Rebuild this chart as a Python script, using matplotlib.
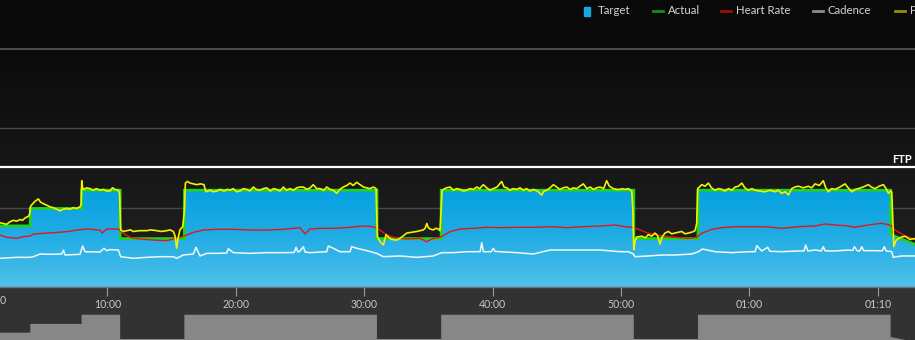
import numpy as np
import matplotlib.pyplot as plt
from matplotlib.patches import Polygon, Rectangle
from matplotlib.lines import Line2D
from matplotlib.colors import LinearSegmentedColormap
import matplotlib.transforms as mtransforms

plt.rcParams['font.family'] = ['Lato', 'DejaVu Sans']

# workout target steps: minutes and watts
seg_start = [0, 4, 8, 11, 16, 31, 36, 51, 56, 71]
seg_end = [4, 8, 11, 16, 31, 36, 51, 56, 71, 73]
seg_from = [77, 99, 122, 61, 122, 61, 122, 61, 122, 66]
seg_to = [77, 99, 122, 61, 122, 61, 122, 61, 122, 53]
ftp = 151

# power trace (yellow)
power_min = [1.64, 1.9, 2.16, 2.4, 2.68, 2.95, 3.2, 3.4, 3.59, 3.85, 3.95, 4.03, 4.2, 4.37, 4.63, 4.8, 5.02, 5.3,
             5.54, 5.8, 6.06, 6.32, 6.55, 6.84, 7.1, 7.35, 7.6, 7.87, 7.96, 8.01, 8.07, 8.13, 8.4, 8.65, 8.9, 9.15,
             9.43, 9.7, 9.95, 10.21, 10.4, 10.6, 10.86, 10.95,
             11.04, 11.25, 11.51, 11.8, 12.03, 12.5, 13.07, 13.4, 13.85, 14.2, 14.63, 14.9, 15.14, 15.28, 15.4,
             15.52, 15.66, 15.87, 16.0,
             16.08, 16.25, 16.44, 16.7, 16.96, 17.25, 17.53, 17.6, 17.69, 18.0, 18.25, 18.52, 18.8, 19.1, 19.35,
             19.56, 19.81, 20.05, 20.33, 20.6, 20.86, 21.1, 21.37, 21.6, 21.89, 22.15, 22.41, 22.7, 22.95, 23.19,
             23.45, 23.71, 23.95, 24.23, 24.5, 24.75, 25.01, 25.27, 25.55, 25.8, 26.04, 26.3, 26.57, 26.85, 27.09,
             27.35, 27.6, 27.87, 28.1, 28.38, 28.65, 28.9, 29.15, 29.42, 29.68, 29.95, 30.2, 30.45, 30.72, 30.93,
             31.03, 31.25, 31.5, 31.71, 31.95, 32.15, 32.54, 32.75, 32.93, 33.32, 33.7, 34.1, 34.35, 34.61, 34.75,
             34.88, 35.0, 35.14, 35.39, 35.6, 35.78, 35.91,
             36.07, 36.4, 36.69, 36.95, 37.2, 37.47, 37.75, 37.99, 38.25, 38.51, 38.77, 39.0, 39.28, 39.55, 39.8,
             40.06, 40.35, 40.71, 40.9, 41.1, 41.35, 41.6, 41.88, 42.14, 42.4, 42.65, 42.9, 43.18, 43.5, 43.83,
             44.0, 44.22, 44.48, 44.74, 45.0, 45.25, 45.5, 45.78, 46.05, 46.3, 46.56, 46.8, 47.07, 47.35, 47.6,
             47.85, 48.1, 48.37, 48.65, 48.89, 49.1, 49.41, 49.67, 49.93, 50.1, 50.32, 50.58, 50.84, 50.92,
             51.0, 51.1, 51.23, 51.62, 51.9, 52.13, 52.4, 52.65, 52.85, 53.04, 53.2, 53.43, 53.69, 53.95, 54.21,
             54.47, 54.73, 55.0, 55.25, 55.5, 55.77, 55.9,
             55.98, 56.29, 56.55, 56.81, 57.05, 57.33, 57.6, 57.85, 58.1, 58.37, 58.63, 58.89, 59.15, 59.41, 59.65,
             59.92, 60.2, 60.44, 60.8, 61.22, 61.6, 62.0, 62.25, 62.52, 62.8, 63.04, 63.3, 63.55, 63.82, 64.2,
             64.6, 64.85, 65.12, 65.45, 65.76, 65.95, 66.15, 66.4, 66.68, 67.05, 67.45, 67.7, 67.97, 68.25, 68.49,
             68.85, 69.27, 69.5, 69.79, 70.1, 70.44, 70.65, 70.83, 71.0, 71.09, 71.18,
             71.25, 71.4, 71.6, 71.85, 72.13, 72.5, 72.9]
power_w = [81, 80, 79, 82, 84, 83, 85, 84, 87, 89, 92, 102, 105, 108, 111, 107, 105, 103,
           101, 100, 98, 96, 98, 99, 98, 100, 99, 101, 104, 134, 126, 123, 125, 124, 122, 124,
           122, 123, 121, 121, 125, 123, 122, 118,
           72, 70, 71, 72, 70, 71, 71, 72, 71, 70, 71, 72, 70, 64, 49,
           62, 72, 76, 95,
           131, 133, 131, 130, 129, 130, 129, 124, 120, 122, 120, 121, 123, 121, 123,
           122, 124, 120, 121, 124, 123, 121, 126, 123, 122, 124, 125, 121, 124, 123,
           121, 126, 122, 124, 122, 125, 126, 126, 123, 125, 129, 124, 124, 122, 126,
           123, 122, 118, 123, 126, 128, 131, 128, 132, 129, 126, 125, 124, 126, 124,
           63, 57, 53, 66, 62, 60, 59, 61, 63, 68, 69, 70, 71, 72, 74,
           80, 75, 73, 72, 74, 73, 71,
           122, 125, 126, 122, 124, 123, 121, 122, 124, 123, 126, 124, 129, 125, 122,
           124, 126, 133, 126, 125, 122, 124, 123, 125, 122, 124, 121, 123, 121, 116,
           121, 122, 125, 129, 126, 123, 125, 126, 123, 125, 124, 127, 130, 124, 126,
           123, 125, 126, 124, 134, 127, 124, 123, 123, 124, 123, 124, 121, 100,
           47, 58, 63, 64, 62, 66, 64, 68, 65, 54, 63, 68, 70, 67, 68,
           69, 70, 67, 68, 69, 71, 80,
           124, 129, 127, 131, 125, 122, 124, 123, 121, 124, 122, 126, 127, 131, 125,
           122, 124, 122, 121, 120, 122, 120, 122, 118, 120, 116, 124, 126, 127, 125,
           127, 125, 130, 128, 134, 125, 120, 124, 123, 126, 130, 125, 120, 123, 124,
           126, 129, 126, 124, 127, 129, 124, 118, 121, 120, 80,
           51, 58, 61, 63, 64, 60, 61]

# heart rate trace (red), in plot units
hr_min = [1.64, 2.16, 2.94, 3.46, 3.98, 4.24, 5.02, 5.8, 6.84, 7.62, 8.4, 9.43, 9.6, 9.95, 10.86, 11.25, 11.77,
          12.55, 13.58, 14.63, 15.66, 16.18, 16.7, 17.48, 18.52, 19.82, 21.11, 22.41, 23.71, 25.01, 25.4, 25.79,
          26.57, 27.6, 28.9, 29.94, 30.72, 31.24, 31.76, 32.27, 33.32, 34.35, 34.88, 35.39, 35.91, 36.69, 37.47,
          38.51, 39.55, 40.58, 41.88, 43.18, 44.48, 45.78, 47.07, 48.37, 49.54, 50.32, 50.97, 51.36, 52.13, 53.17,
          54.21, 55.25, 55.9, 56.29, 57.07, 57.85, 58.89, 59.92, 61.22, 62.52, 63.82, 65.12, 65.89, 66.68, 67.71,
          68.23, 69.27, 70.31, 70.95, 71.34, 72.13, 72.9]
hr_lvl = [65.5, 62.6, 61.4, 63.4, 64.3, 66.8, 67.7, 68.5, 69.7, 71.8, 73.1, 71.8, 68.0, 73.1, 73.1, 67.7, 62.6,
          60.5, 59.2, 58.4, 62.6, 65.5, 68.9, 71.8, 72.7, 72.7, 71.8, 71.8, 72.7, 74.8, 66.8, 73.1,
          74.0, 74.0, 75.2, 76.9, 76.0, 71.8, 65.5, 62.6, 60.5, 61.4, 57.1, 61.4, 62.6, 69.7, 73.1,
          74.0, 75.2, 74.8, 75.2, 75.2, 76.0, 74.8, 76.0, 76.9, 78.2, 76.0, 75.2, 72.7, 67.7, 64.3,
          62.6, 61.4, 62.6, 67.7, 72.7, 74.8, 76.0, 76.0, 76.0, 74.0, 76.0, 76.9, 79.4, 78.2, 76.9,
          75.2, 78.2, 80.3, 78.2, 71.8, 64.3, 60.1]

# cadence trace (white), in plot units
cad_min = [1.64, 2.94, 3.98, 4.24, 4.76, 5.54, 6.45, 6.58, 6.71, 7.87, 8.08, 8.26, 9.43, 9.74, 9.95, 10.21, 10.86,
           11.04, 12.03, 13.07, 14.1, 15.14, 15.4, 15.92, 16.7, 16.91, 17.22, 17.74, 18.52, 19.3, 19.43, 19.81,
           21.11, 22.41, 23.71, 24.55, 24.7, 24.85, 25.01, 25.27, 25.4, 25.79, 27.09, 27.21, 27.6, 28.12, 28.9,
           29.03, 29.42, 30.2, 30.98, 31.5, 32.8, 34.1, 35.39, 36.04, 36.95, 37.99, 39.03, 39.16, 39.28, 39.9,
           40.06, 40.2, 40.58, 41.88, 43.18, 44.48, 45.78, 47.07, 48.37, 49.93, 50.58, 50.97, 51.1, 52.13, 53.17,
           54.21, 55.51, 56.03, 56.34, 57.33, 58.63, 59.92, 60.45, 60.58, 60.97, 61.43, 61.6, 62.52, 63.82, 64.25,
           64.39, 64.55, 65.12, 65.6, 65.76, 65.9, 66.68, 67.71, 68.05, 68.18, 68.4, 68.6, 68.75, 68.9, 69.79,
           70.35, 70.51, 70.65, 71.09, 71.21, 71.87, 72.9]
cad_lvl = [36.2, 37.4, 37.4, 38.2, 41.6, 41.2, 41.6, 46.6, 40.3, 41.2, 51.7, 44.5, 44.1, 48.8, 45.8, 47.1, 46.6,
           38.2, 36.2, 37.4, 38.2, 38.2, 36.2, 40.3, 41.6, 50.0, 39.1, 42.4, 42.4, 42.8, 48.3, 43.3,
           42.4, 43.3, 43.3, 43.5, 50.0, 44.0, 45.5, 50.8, 44.0, 43.3, 44.5, 51.7, 48.8, 44.5, 44.5,
           50.8, 48.8, 45.8, 42.4, 38.2, 39.1, 37.4, 39.1, 43.3, 43.3, 44.5, 44.5, 55.9, 44.5, 44.5,
           48.8, 44.8, 44.5, 43.3, 41.6, 46.6, 46.6, 46.6, 46.6, 44.5, 44.5, 41.6, 38.2, 39.1, 40.3,
           40.3, 41.6, 44.5, 47.9, 44.5, 43.3, 44.5, 44.5, 52.1, 45.4, 50.0, 45.0, 44.5, 45.4, 45.4,
           52.9, 45.5, 46.6, 45.5, 50.8, 45.5, 45.4, 46.6, 46.0, 50.8, 45.5, 45.5, 50.8, 45.8, 45.8,
           45.6, 50.8, 45.5, 44.5, 37.4, 39.1, 39.1]

tick_min = [10, 20, 30, 40, 50, 60, 70]
tick_lbl = ['10:00', '20:00', '30:00', '40:00', '50:00', '01:00', '01:10']
legend_names = ['Target', 'Actual', 'Heart Rate', 'Cadence', 'Power']
legend_cols = ['#1ba6e2', '#11901a', '#a00a0a', '#8c8c8c', '#8f8f10']

x0, x1 = 1.643, 72.9
W, H = 915, 340

fig = plt.figure(figsize=(W / 100, H / 100), dpi=100, facecolor='#090909')

# target step outline
tx, ty = [], []
for s, e, a, b in zip(seg_start, seg_end, seg_from, seg_to):
    tx += [s, e]
    ty += [a, b]
tx = np.array(tx)
ty = np.array(ty)

# workout profile strip + time axis band
pax = fig.add_axes([0, 0, 1, 53 / H])
pax.set_facecolor('#323232')
pax.fill_between(tx, ty, 0, color='#878787', lw=0)
pax.set_xlim(x0, x1)
pax.set_ylim(58.5, 191.7)
pax.set_xticks([])
pax.set_yticks([])
for sp in pax.spines.values():
    sp.set_visible(False)

ax = fig.add_axes([0, 53 / H, 1, 238 / H])
bg = LinearSegmentedColormap.from_list('bg', ['#232323', '#0b0b0b'])
ax.imshow(np.linspace(0, 1, 128).reshape(-1, 1), cmap=bg, origin='lower', aspect='auto',
          extent=(x0, x1, 0, 300), zorder=0)

for g in [100, 200]:
    ax.axhline(g, color='#484848', lw=1, zorder=1)
ax.axhline(300, color='#4a4a4a', lw=1.5, zorder=1, clip_on=False)

# blue gradient target area
poly = Polygon(np.column_stack([np.r_[tx, tx[-1], tx[0]], np.r_[ty, 0, 0]]), closed=True,
               facecolor='none', edgecolor='none')
ax.add_patch(poly)
blue = LinearSegmentedColormap.from_list('blue', ['#4fc0ea', '#22ade5', '#03a0df'])
im = ax.imshow(np.linspace(0, 1, 128).reshape(-1, 1), cmap=blue, origin='lower', aspect='auto',
               extent=(x0, x1, 0, 125), zorder=2)
im.set_clip_path(poly)

ax.plot(tx, ty, color='#1fd21f', lw=2, zorder=3, solid_joinstyle='miter')
ax.plot(cad_min, cad_lvl, color='#f4f8fa', lw=1.1, zorder=4)
ax.plot(hr_min, hr_lvl, color='#e8141a', lw=1.0, zorder=4)
ax.plot(power_min, power_w, color='#f2f200', lw=1.2, zorder=5)

ax.axhline(ftp, color='white', lw=1.6, zorder=3)
ax.text(0.997, ftp + 5, 'FTP', transform=mtransforms.blended_transform_factory(ax.transAxes, ax.transData),
        ha='right', va='baseline', fontsize=8, fontweight='bold', color='white')

ax.set_xlim(x0, x1)
ax.set_ylim(0, 300)
for sp in ax.spines.values():
    sp.set_visible(False)
ax.axhline(0, color='#707070', lw=1, zorder=6, clip_on=False)
ax.set_yticks([])
ax.set_xticks(tick_min, tick_lbl)
ax.tick_params(axis='x', direction='out', length=6.3, width=0.8, color='#9a9a9a',
               labelsize=7.6, labelcolor='#c8c8c8', pad=2)
fig.text(0, 1 - 301 / H, '0', ha='left', va='center', fontsize=7.6, color='#c8c8c8')

# legend across the top
ly = 1 - 11 / H
fig.add_artist(Rectangle((584 / W, 1 - 16 / H), 5.5 / W, 8.5 / H, transform=fig.transFigure,
                         color=legend_cols[0]))
fig.text(598 / W, ly, legend_names[0], ha='left', va='center', fontsize=8.2, color='#d4d4d4')
for name, col, xd in zip(legend_names[1:], legend_cols[1:], [653, 721, 813, 895]):
    fig.add_artist(Line2D([xd / W, (xd + 9.5) / W], [ly, ly], color=col, lw=2, transform=fig.transFigure))
    fig.text((xd + 15) / W, ly, name, ha='left', va='center', fontsize=8.2, color='#d4d4d4')

fig.savefig('out.png', dpi=100, facecolor=fig.get_facecolor())
